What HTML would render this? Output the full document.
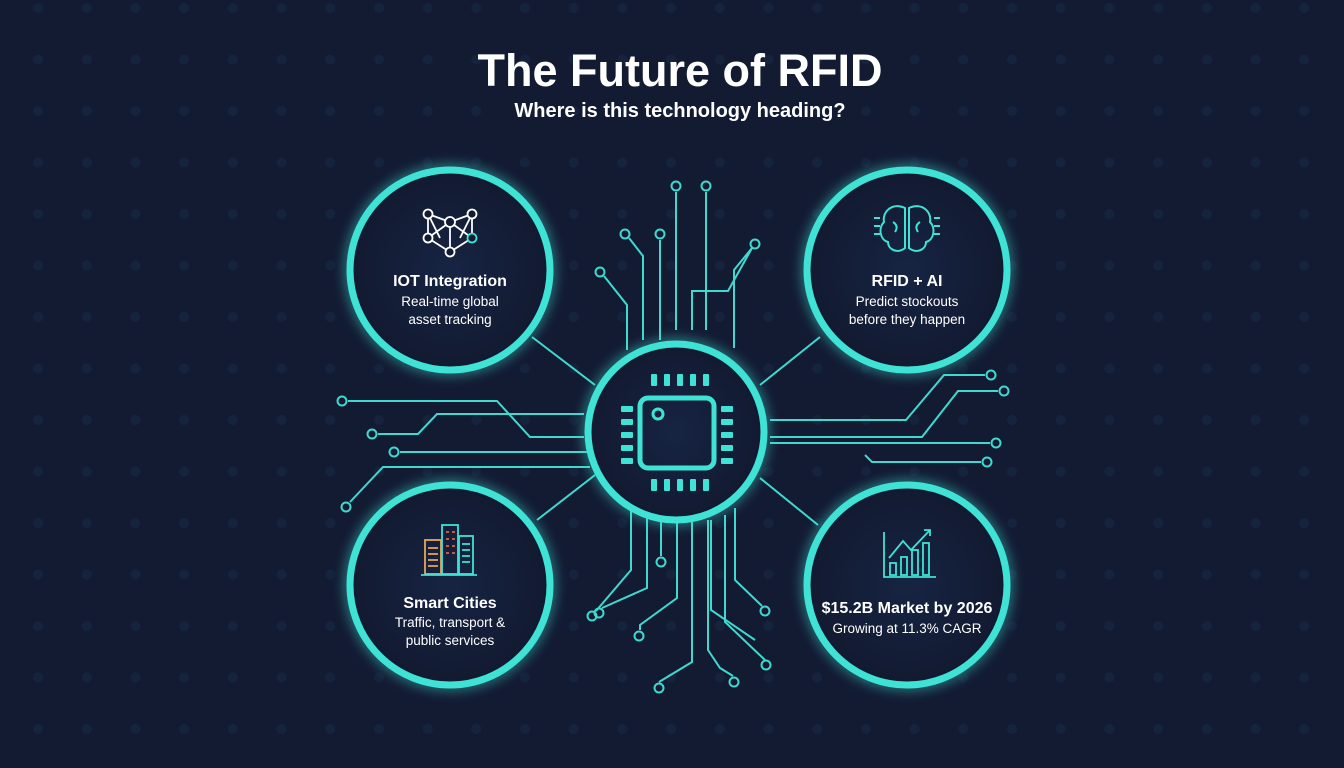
<!DOCTYPE html>
<html><head><meta charset="utf-8"><style>
html,body{margin:0;padding:0;background:#131b33;}
svg{display:block}
text{font-family:"Liberation Sans",sans-serif;fill:#fff;text-anchor:middle}
</style></head><body>
<svg width="1344" height="768" viewBox="0 0 1344 768" xmlns="http://www.w3.org/2000/svg">
<defs>
<pattern id="dots" x="14" y="-15" width="48.7" height="51.5" patternUnits="userSpaceOnUse">
<circle cx="24" cy="23" r="5" fill="#16233d"/>
</pattern>
<filter id="glow" x="-30%" y="-30%" width="160%" height="160%"><feGaussianBlur stdDeviation="6"/></filter>
<radialGradient id="cg" cx="50%" cy="50%" r="50%"><stop offset="0" stop-color="#162443"/><stop offset="1" stop-color="#121a30"/></radialGradient>
</defs>
<rect width="1344" height="768" fill="#131b33"/>
<rect width="1344" height="768" fill="url(#dots)"/>
<text x="680" y="86" font-size="45" font-weight="bold">The Future of RFID</text>
<text x="680" y="117" font-size="20" font-weight="bold">Where is this technology heading?</text>

<g stroke="#3fd9cf" stroke-width="2" fill="none">
<polyline points="676,192 676,330"/><circle cx="676" cy="186" r="4.5"/>
<polyline points="706,192 706,330"/><circle cx="706" cy="186" r="4.5"/>
<polyline points="660,240 660,340"/><circle cx="660" cy="234" r="4.5"/>
<polyline points="629,238 643,256 643,340"/><circle cx="625" cy="234" r="4.5"/>
<polyline points="604,276 627,305 627,350"/><circle cx="600" cy="272" r="4.5"/>
<polyline points="752,248 728,291 692,291 692,330"/><circle cx="755" cy="244" r="4.5"/>
<polyline points="752,248 734,270 734,348"/>
<line x1="532" y1="337" x2="595" y2="385"/>
<line x1="820" y1="337" x2="760" y2="385"/>
<line x1="537" y1="520" x2="595" y2="475"/>
<line x1="818" y1="525" x2="760" y2="478"/>
<polyline points="348,401 497,401 530,437 584,437"/><circle cx="342" cy="401" r="4.5"/>
<polyline points="378,434 418,434 437,414 584,414"/><circle cx="372" cy="434" r="4.5"/>
<polyline points="400,452 590,452"/><circle cx="394" cy="452" r="4.5"/>
<polyline points="350,502 383,467 590,467"/><circle cx="346" cy="507" r="4.5"/>
<polyline points="770,420 906,420 944,375 985,375"/><circle cx="991" cy="375" r="4.5"/>
<polyline points="770,437 922,437 958,391 998,391"/><circle cx="1004" cy="391" r="4.5"/>
<polyline points="770,443 990,443"/><circle cx="996" cy="443" r="4.5"/>
<polyline points="865,455 872,462 981,462"/><circle cx="987" cy="462" r="4.5"/>
<polyline points="631,500 631,570 596,611"/><circle cx="592" cy="616" r="4.5"/>
<polyline points="647,508 647,588 602,608"/><circle cx="599" cy="613" r="4.5"/>
<polyline points="661,515 661,556"/><circle cx="661" cy="562" r="4.5"/>
<polyline points="677,520 677,598 640,625 640,630"/><circle cx="639" cy="636" r="4.5"/>
<polyline points="692,520 692,662 659,682"/><circle cx="659" cy="688" r="4.5"/>
<polyline points="708,520 708,650 720,668 733,676"/><circle cx="734" cy="682" r="4.5"/>
<polyline points="725,515 725,622 765,660"/><circle cx="766" cy="665" r="4.5"/>
<polyline points="735,508 735,580 762,606"/><circle cx="765" cy="611" r="4.5"/>
<polyline points="711,520 711,610 755,640"/>
</g>

<g stroke="#3fe3d5" stroke-width="10" fill="none" opacity="0.55" filter="url(#glow)">
<circle cx="450" cy="270" r="100"/><circle cx="907" cy="270" r="100"/>
<circle cx="450" cy="585" r="100"/><circle cx="907" cy="585" r="100"/>
<circle cx="676" cy="432" r="88"/>
</g>
<g stroke="#3ee3d5" stroke-width="7" fill="url(#cg)">
<circle cx="450" cy="270" r="100"/><circle cx="907" cy="270" r="100"/>
<circle cx="450" cy="585" r="100"/><circle cx="907" cy="585" r="100"/>
<circle cx="676" cy="432" r="88"/>
</g>

<g fill="#3ee3d5">
<rect x="640" y="398" width="74" height="70" rx="8" fill="none" stroke="#3ee3d5" stroke-width="5"/>
<circle cx="658" cy="414" r="5" fill="none" stroke="#3ee3d5" stroke-width="3"/>
<g id="tp"><rect x="651" y="374" width="6" height="12" rx="1"/><rect x="664" y="374" width="6" height="12" rx="1"/><rect x="677" y="374" width="6" height="12" rx="1"/><rect x="690" y="374" width="6" height="12" rx="1"/><rect x="703" y="374" width="6" height="12" rx="1"/></g>
<use href="#tp" y="105"/>
<g id="lp"><rect x="621" y="406" width="12" height="6" rx="1"/><rect x="621" y="419" width="12" height="6" rx="1"/><rect x="621" y="432" width="12" height="6" rx="1"/><rect x="621" y="445" width="12" height="6" rx="1"/><rect x="621" y="458" width="12" height="6" rx="1"/></g>
<use href="#lp" x="100"/>
</g>

<g stroke="#fff" stroke-width="1.8" fill="#131b33">
<line x1="428" y1="214" x2="440" y2="238"/><line x1="428" y1="214" x2="450" y2="222"/><line x1="472" y1="214" x2="450" y2="222"/><line x1="472" y1="214" x2="460" y2="238"/>
<line x1="428" y1="238" x2="450" y2="222"/><line x1="472" y1="238" x2="450" y2="222"/><line x1="450" y1="222" x2="450" y2="252"/>
<line x1="428" y1="238" x2="450" y2="252"/><line x1="472" y1="238" x2="450" y2="252"/><line x1="428" y1="214" x2="428" y2="238"/><line x1="472" y1="214" x2="472" y2="238"/>
<circle cx="428" cy="214" r="4.5"/><circle cx="472" cy="214" r="4.5"/><circle cx="450" cy="222" r="5"/><circle cx="428" cy="238" r="4.5"/><circle cx="472" cy="238" r="4.5" stroke="#3ee3d5"/><circle cx="450" cy="252" r="4.5"/>
</g>
<text x="450" y="286" font-size="16" font-weight="bold">IOT Integration</text>
<text x="450" y="306" font-size="13.5" fill="#e6eef5">Real-time global</text>
<text x="450" y="324" font-size="13.5" fill="#e6eef5">asset tracking</text>

<g stroke="#3ee3d5" stroke-width="2" fill="none">
<path d="M905,208 C892,202 882,212 884,222 C878,228 880,240 888,242 C888,250 898,254 905,248 Z"/>
<path d="M909,208 C922,202 932,212 930,222 C936,228 934,240 926,242 C926,250 916,254 909,248 Z"/>
<path d="M893,222 q6,4 2,10 M920,222 q-6,4 -2,10"/>
<line x1="874" y1="218" x2="880" y2="218"/><line x1="874" y1="226" x2="880" y2="226"/><line x1="874" y1="234" x2="880" y2="234"/>
<line x1="934" y1="218" x2="940" y2="218"/><line x1="934" y1="226" x2="940" y2="226"/><line x1="934" y1="234" x2="940" y2="234"/>
</g>
<text x="907" y="286" font-size="16" font-weight="bold">RFID + AI</text>
<text x="907" y="306" font-size="13.5" fill="#e6eef5">Predict stockouts</text>
<text x="907" y="324" font-size="13.5" fill="#e6eef5">before they happen</text>

<g fill="none" stroke-width="1.8">
<rect x="425" y="540" width="16" height="34" stroke="#e8a55a"/>
<rect x="442" y="525" width="16" height="49" stroke="#3ee3d5"/>
<rect x="459" y="536" width="14" height="38" stroke="#3ee3d5"/>
<line x1="421" y1="575" x2="477" y2="575" stroke="#3ee3d5"/>
<path d="M428,548h10M428,554h10M428,560h10M428,566h10" stroke="#e8a55a"/>
<path d="M462,544h8M462,550h8M462,556h8M462,562h8" stroke="#3ee3d5"/>
<path d="M446,532h3M452,532h3M446,539h3M452,539h3M446,546h3M452,546h3M446,553h3M452,553h3" stroke="#e0604a"/>
</g>
<text x="450" y="608" font-size="16" font-weight="bold">Smart Cities</text>
<text x="450" y="627" font-size="13.5" fill="#e6eef5">Traffic, transport &amp;</text>
<text x="450" y="645" font-size="13.5" fill="#e6eef5">public services</text>

<g fill="none" stroke="#3ee3d5" stroke-width="1.8">
<polyline points="884,532 884,577 936,577"/>
<rect x="890" y="563" width="6" height="12"/><rect x="901" y="557" width="6" height="18"/><rect x="912" y="550" width="6" height="25"/><rect x="923" y="543" width="6" height="32"/>
<polyline points="889,558 903,541 911,550 930,530"/><polyline points="924,530 930,530 930,536"/>
</g>
<text x="907" y="613" font-size="16" font-weight="bold">$15.2B Market by 2026</text>
<text x="907" y="633" font-size="13.5" fill="#e6eef5">Growing at 11.3% CAGR</text>
</svg>
</body></html>
